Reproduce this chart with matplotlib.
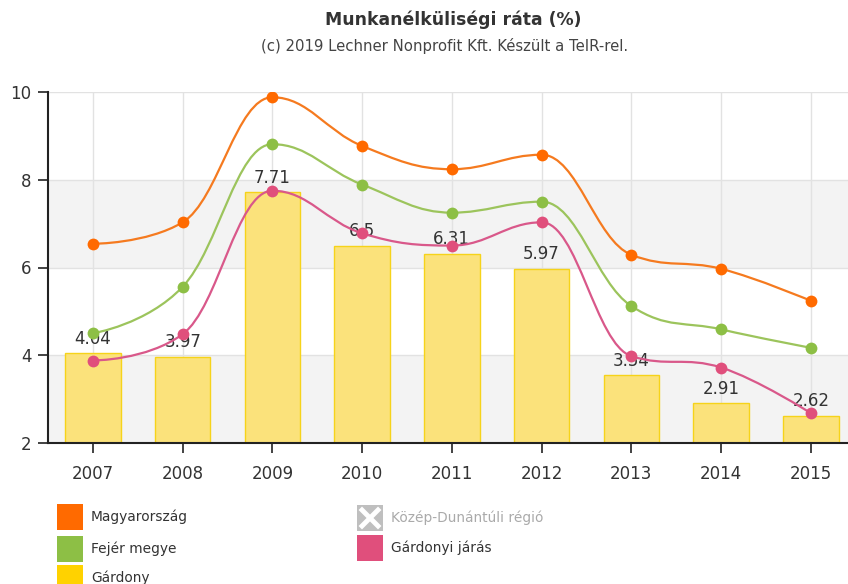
import matplotlib
matplotlib.use("Agg")
import matplotlib.pyplot as plt
from matplotlib.path import Path
from matplotlib.patches import PathPatch, Rectangle
from matplotlib.lines import Line2D
import numpy as np

plt.rcParams['font.family'] = ['DejaVu Sans']

years = ['2007', '2008', '2009', '2010', '2011', '2012', '2013', '2014', '2015']
gardony = [4.04, 3.97, 7.71, 6.5, 6.31, 5.97, 3.54, 2.91, 2.62]
magyarorszag = [6.54, 7.03, 9.88, 8.77, 8.24, 8.57, 6.29, 5.97, 5.24]
fejer = [4.50, 5.56, 8.81, 7.89, 7.25, 7.50, 5.12, 4.59, 4.17]
gardonyi_jaras = [3.88, 4.48, 7.75, 6.78, 6.50, 7.03, 3.98, 3.72, 2.68]

title = 'Munkanélküliségi ráta (%)'
subtitle = '(c) 2019 Lechner Nonprofit Kft. Készült a TeIR-rel.'

W, H = 848, 584
fig = plt.figure(figsize=(W / 100, H / 100), dpi=100)
left_px, right_px, top_px, bot_px = 48, 848, 92, 443
ax = fig.add_axes([left_px / W, 1 - bot_px / H, (right_px - left_px) / W, (bot_px - top_px) / H])

cat_w = 89.75
x = np.arange(len(years))
ax.set_xlim(-0.5, (right_px - left_px) / cat_w - 0.5)
ax.set_ylim(2, 10)

# alternating bands
for lo, hi in [(2, 4), (6, 8)]:
    ax.axhspan(lo, hi, color='#f3f3f3', zorder=0, lw=0)

ax.grid(True, color='#e2e2e2', lw=1, zorder=0.5)
ax.set_axisbelow(True)
ax.set_yticks([2, 4, 6, 8, 10])
ax.set_xticks(x)
ax.set_xticklabels(years)

for s in ['top', 'right']:
    ax.spines[s].set_visible(False)
ax.spines['left'].set_color('#222222')
ax.spines['bottom'].set_color('#222222')
ax.spines['left'].set_linewidth(1.5)
ax.spines['bottom'].set_linewidth(1.5)
ax.tick_params(axis='both', colors='#222222', labelsize=12, length=7, width=1.2, labelcolor='#333333')
ax.tick_params(axis='x', pad=9)
ax.tick_params(axis='y', pad=5)

# bars
ax.bar(x, gardony, width=0.62, bottom=0, color='#fbe27b', edgecolor='#f6d31a', linewidth=1, zorder=2)
for xi, v in zip(x, gardony):
    ax.annotate(f'{v:g}', (xi, v), xytext=(0, 4), textcoords='offset points',
                ha='center', va='bottom', fontsize=12, color='#333333', zorder=3)


def spline_path(xs, ys, smoothing=1.5):
    n = len(xs)
    denom = smoothing + 1
    lc = [(xs[i], ys[i]) for i in range(n)]
    rc = [(xs[i], ys[i]) for i in range(n)]
    for i in range(1, n - 1):
        px, py = xs[i], ys[i]
        lx, ly = xs[i - 1], ys[i - 1]
        nx, ny = xs[i + 1], ys[i + 1]
        lcx = (smoothing * px + lx) / denom
        lcy = (smoothing * py + ly) / denom
        rcx = (smoothing * px + nx) / denom
        rcy = (smoothing * py + ny) / denom
        if rcx != lcx:
            corr = (rcy - lcy) * (rcx - px) / (rcx - lcx) + py - rcy
            lcy += corr
            rcy += corr
            if lcy > ly and lcy > py:
                lcy = max(ly, py); rcy = 2 * py - lcy
            elif lcy < ly and lcy < py:
                lcy = min(ly, py); rcy = 2 * py - lcy
            if rcy > ny and rcy > py:
                rcy = max(ny, py); lcy = 2 * py - rcy
            elif rcy < ny and rcy < py:
                rcy = min(ny, py); lcy = 2 * py - rcy
        lc[i] = (lcx, lcy)
        rc[i] = (rcx, rcy)
    verts = [(xs[0], ys[0])]
    codes = [Path.MOVETO]
    for i in range(1, n):
        verts += [rc[i - 1], lc[i], (xs[i], ys[i])]
        codes += [Path.CURVE4] * 3
    return Path(verts, codes)


series = [
    (magyarorszag, '#f57a1f', '#ff6a00'),
    (fejer, '#9cc45c', '#8dbf45'),
    (gardonyi_jaras, '#d9588a', '#e04f7c'),
]
for vals, lc_, mc in series:
    p = spline_path(list(x.astype(float)), list(vals))
    ax.add_patch(PathPatch(p, facecolor='none', edgecolor=lc_, lw=1.6, zorder=4))
    ax.plot(x, vals, 'o', color=mc, markersize=8.5, markeredgewidth=0, zorder=5)

# title
fig.text(453 / W, 1 - 20 / H, title, ha='center', va='center', fontsize=12.4, fontweight='bold', color='#333333')
fig.text(445 / W, 1 - 46 / H, subtitle, ha='center', va='center', fontsize=10.7, color='#444444')

# legend (manual)
legend_items = [
    (57, 517, '#ff6a00', 'Magyarország', '#333333', False),
    (57, 549, '#8dbf45', 'Fejér megye', '#333333', False),
    (57, 578, '#ffd200', 'Gárdony', '#333333', False),
    (357, 518, '#bfbfbf', 'Közép-Dunántúli régió', '#aaaaaa', True),
    (357, 548, '#e04f7c', 'Gárdonyi járás', '#333333', False),
]
for lx, ly, col, lab, tcol, hidden in legend_items:
    sz = 26
    fig.patches.append(Rectangle((lx / W, 1 - (ly + sz / 2) / H), sz / W, sz / H,
                                 transform=fig.transFigure, facecolor=col, edgecolor='none'))
    if hidden:
        fig.add_artist(Line2D([(lx + 5) / W, (lx + sz - 5) / W], [1 - (ly - 8) / H, 1 - (ly + 8) / H],
                              transform=fig.transFigure, color='white', lw=3.5))
        fig.add_artist(Line2D([(lx + 5) / W, (lx + sz - 5) / W], [1 - (ly + 8) / H, 1 - (ly - 8) / H],
                              transform=fig.transFigure, color='white', lw=3.5))
    fig.text((lx + 34) / W, 1 - ly / H, lab, ha='left', va='center', fontsize=9.9, color=tcol)

fig.savefig('out.png', dpi=100, facecolor='white')
